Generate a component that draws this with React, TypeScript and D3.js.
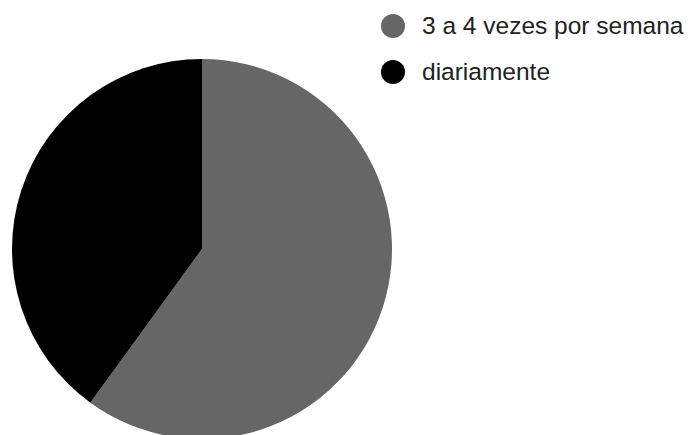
import React from "react";
import * as d3 from "d3";

const categories = ["3 a 4 vezes por semana", "diariamente"];
const values = [60, 40];
const colors = ["#666666", "#000000"];

export default function App() {
  const width = 694, height = 435;
  const cx = 202, cy = 249, r = 190;
  const pie = d3.pie<number>().sort(null).value((d) => d);
  const arcs = pie(values);
  const arc = d3.arc<d3.PieArcDatum<number>>().innerRadius(0).outerRadius(r);
  return (
    <svg width={width} height={height} style={{ position: "absolute", left: 0, top: 0 }}>
      <g transform={`translate(${cx},${cy})`}>
        {arcs.map((a, i) => (
          <path key={i} d={arc(a) || ""} fill={colors[i]} />
        ))}
      </g>
      {categories.map((c, i) => (
        <g key={c} transform={`translate(0,${i * 46})`}>
          <circle cx={393} cy={26} r={12} fill={colors[i]} />
          <text x={422} y={34} fontFamily="Liberation Sans" fontSize={24.5} fill="#222">
            {c}
          </text>
        </g>
      ))}
    </svg>
  );
}
